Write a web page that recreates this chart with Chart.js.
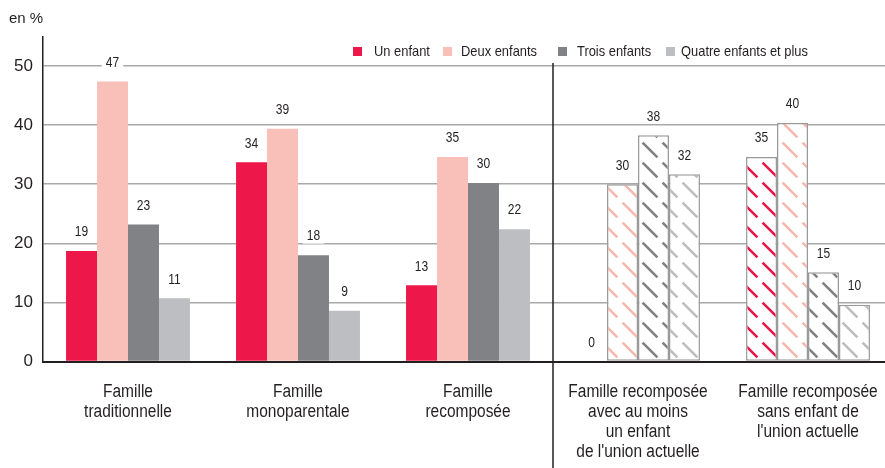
<!DOCTYPE html>
<html>
<head>
<meta charset="utf-8">
<script src="https://cdn.jsdelivr.net/npm/chart.js@4"></script>
<style>
  html, body { margin: 0; padding: 0; background: #fff; overflow: hidden; }
  #chart { display: block; }
</style>
</head>
<body>
<canvas id="chart" width="900" height="468"></canvas>
<script>
const categories = [
    ['Famille', 'traditionnelle'],
    ['Famille', 'monoparentale'],
    ['Famille', 'recomposée'],
    ['Famille recomposée', 'avec au moins', 'un enfant', "de l'union actuelle"],
    ['Famille recomposée', 'sans enfant de', "l'union actuelle"]
];
const seriesNames = ['Un enfant', 'Deux enfants', 'Trois enfants', 'Quatre enfants et plus'];
const unEnfant = [18.7, 33.7, 12.9, 0, 34.6];
const deuxEnfants = [47.4, 39.4, 34.6, 30.0, 40.4];
const troisEnfants = [23.2, 18.0, 30.2, 38.3, 15.1];
const quatreEnfants = [10.7, 8.6, 22.4, 31.7, 9.6];
const yTicks = [0, 10, 20, 30, 40, 50];
const hatchedCategories = [3, 4];

const seriesColors = ['#ed1849', '#f8c0b8', '#818286', '#bdbec1'];
const hatchColors = ['#e8174a', '#f7b8ae', '#808080', '#bdbdbd'];
const sans = "'Liberation Sans', Arial, sans-serif";
const ink = '#231f20';

function makeHatch(color) {
    const size = 20;
    const c = document.createElement('canvas');
    c.width = size; c.height = size;
    const g = c.getContext('2d');
    g.fillStyle = '#fff';
    g.fillRect(0, 0, size, size);
    g.strokeStyle = color;
    g.lineWidth = 2.6;
    g.setLineDash([21, 7.28]);
    g.lineDashOffset = -3.64;
    g.beginPath();
    g.moveTo(0, 0);
    g.lineTo(size, size);
    g.stroke();
    return g.createPattern(c, 'repeat');
}
const hatches = hatchColors.map(makeHatch);

const allValues = [unEnfant, deuxEnfants, troisEnfants, quatreEnfants];

const datasets = allValues.map((vals, i) => ({
    label: seriesNames[i],
    data: vals,
    backgroundColor: ctx => hatchedCategories.includes(ctx.dataIndex) ? hatches[i] : seriesColors[i],
    borderColor: '#9a9a9a',
    borderWidth: ctx => (hatchedCategories.includes(ctx.dataIndex) && ctx.raw > 0) ? 1.5 : 0,
    borderSkipped: false,
    categoryPercentage: 0.729,
    barPercentage: 1
}));

// condensed text helper (the source uses a narrow face)
function narrowText(ctx, txt, x, y, size, align) {
    const sx = 0.86;
    ctx.save();
    ctx.font = size + 'px ' + sans;
    ctx.textAlign = align;
    ctx.textBaseline = 'middle';
    ctx.translate(x, y);
    ctx.scale(sx, 1);
    ctx.fillText(txt, 0, 0);
    ctx.restore();
    ctx.font = size + 'px ' + sans;
    return ctx.measureText(txt).width * sx;
}

// value labels with white box behind them
const valueLabels = {
    id: 'valueLabels',
    afterDatasetsDraw(chart) {
        const ctx = chart.ctx;
        ctx.save();
        chart.data.datasets.forEach((ds, di) => {
            chart.getDatasetMeta(di).data.forEach((bar, i) => {
                const txt = String(Math.round(ds.data[i]));
                const y = bar.y - 18.5;
                ctx.font = '14px ' + sans;
                const w = ctx.measureText(txt).width * 0.86 + 8;
                ctx.fillStyle = '#fff';
                ctx.fillRect(bar.x - w / 2, y - 7, w, 14);
                ctx.fillStyle = ink;
                narrowText(ctx, txt, bar.x, y, 14, 'center');
            });
        });
        ctx.restore();
    }
};

// category labels under the axis, one line every 20px
const categoryLabels = {
    id: 'categoryLabels',
    afterDraw(chart) {
        const ctx = chart.ctx;
        const x = chart.scales.x;
        ctx.save();
        ctx.fillStyle = ink;
        chart.data.labels.forEach((lines, i) => {
            const px = x.getPixelForValue(i);
            lines.forEach((line, k) => {
                narrowText(ctx, line, px, x.top + 30.5 + k * 20, 18, 'center');
            });
        });
        ctx.restore();
    }
};

// vertical separator between the two groups of families
const separator = {
    id: 'separator',
    afterDraw(chart) {
        const x = chart.scales.x;
        const px = (x.getPixelForValue(2) + x.getPixelForValue(3)) / 2;
        const ctx = chart.ctx;
        ctx.save();
        ctx.strokeStyle = ink;
        ctx.lineWidth = 1.5;
        ctx.beginPath();
        ctx.moveTo(px, 63);
        ctx.lineTo(px, chart.height);
        ctx.stroke();
        ctx.restore();
    }
};

// unit label and legend drawn inside the plot
const legendBoxX = [353, 443, 558, 666];
const legendTextX = [374, 461, 577, 681];
const extras = {
    id: 'extras',
    afterDraw(chart) {
        const ctx = chart.ctx;
        ctx.save();
        ctx.fillStyle = ink;
        ctx.font = '15px ' + sans;
        ctx.textBaseline = 'middle';
        ctx.textAlign = 'left';
        ctx.fillText('en %', 9, 19);
        seriesNames.forEach((name, i) => {
            ctx.fillStyle = seriesColors[i];
            ctx.fillRect(legendBoxX[i], 47, 9, 9);
            ctx.fillStyle = ink;
            narrowText(ctx, name, legendTextX[i], 51.5, 15, 'left');
        });
        ctx.restore();
    }
};

new Chart(document.getElementById('chart'), {
    type: 'bar',
    data: { labels: categories, datasets: datasets },
    options: {
        responsive: false,
        animation: false,
        layout: { padding: { top: 36.5, right: 7, left: 0, bottom: 0 } },
        plugins: {
            legend: { display: false },
            tooltip: { enabled: false }
        },
        scales: {
            x: {
                grid: { display: false, drawTicks: false },
                border: { display: true, color: ink, width: 2 },
                ticks: { display: false },
                afterFit(scale) { scale.height = 106.5; }
            },
            y: {
                min: 0,
                max: 55,
                afterBuildTicks(scale) { scale.ticks = yTicks.concat([55]).map(v => ({ value: v })); },
                grid: {
                    drawTicks: false,
                    color: ctx => (ctx.tick && yTicks.includes(ctx.tick.value) && ctx.tick.value !== 0) ? '#a9a9a9' : 'rgba(0,0,0,0)',
                    lineWidth: 1.5
                },
                border: { display: true, color: ink, width: 1.5 },
                ticks: {
                    color: ink,
                    font: { family: sans, size: 17 },
                    padding: 10,
                    callback: v => yTicks.includes(v) ? v : ''
                },
                afterFit(scale) { scale.width = 43; }
            }
        }
    },
    plugins: [valueLabels, categoryLabels, separator, extras]
});
</script>
</body>
</html>
